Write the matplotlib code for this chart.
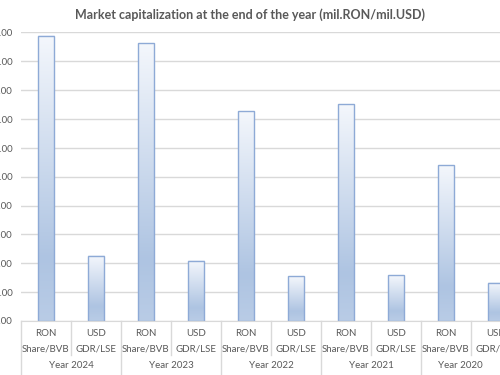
import matplotlib.pyplot as plt
import matplotlib.transforms as mtrans
import numpy as np
from matplotlib.colors import LinearSegmentedColormap
from matplotlib.lines import Line2D
from matplotlib.ticker import FuncFormatter

plt.rcParams['font.family'] = ['Lato', 'DejaVu Sans']

# data (y-axis values are cut off in the source; read in gridline units x1000)
years = ["Year 2024", "Year 2023", "Year 2022", "Year 2021", "Year 2020"]
currencies = ["RON", "USD"]
markets = ["Share/BVB", "GDR/LSE"]
ron_values = [9880, 9620, 7270, 7510, 5390]
usd_values = [2260, 2080, 1550, 1590, 1330]

values = []
for r, u in zip(ron_values, usd_values):
    values += [r, u]

grey = '#595959'
grid_c = '#d9d9d9'
cmap = LinearSegmentedColormap.from_list(
    'bar', [(0, '#f4f7fc'), (0.78, '#aec4e2'), (1, '#b9cce6')])

fig = plt.figure(figsize=(5, 3.75), dpi=100)
ax = fig.add_axes([21 / 500, 54 / 375, 479 / 500, 288.7 / 375])

bar_w = 0.33
grad = np.linspace(0, 1, 256).reshape(-1, 1)
for i, v in enumerate(values):
    ax.imshow(grad, cmap=cmap, aspect='auto', origin='upper',
              extent=(i - bar_w / 2, i + bar_w / 2, 0, v), zorder=2)
    ax.bar(i, v, width=bar_w, facecolor='none', edgecolor='#8eaad6',
           linewidth=1.0, zorder=3)

xmax = -0.5 + 479 / 50
ax.set_xlim(-0.5, xmax)
ax.set_ylim(0, 10000)
ax.set_yticks(np.arange(0, 10001, 1000))
ax.yaxis.set_major_formatter(FuncFormatter(lambda v, p: f"{v:,.2f}"))
ax.tick_params(axis='y', length=0, pad=6, labelsize=7, labelcolor=grey)
ax.set_xticks([])
ax.grid(axis='y', color=grid_c, linewidth=1, zorder=0)
for s in ['top', 'right', 'left']:
    ax.spines[s].set_visible(False)
ax.spines['bottom'].set_color(grid_c)
ax.spines['bottom'].set_zorder(4)


# multi-level category labels
def fig_y(px):
    return 1 - px / 375


btrans = mtrans.blended_transform_factory(ax.transData, fig.transFigure)
for i in range(len(values)):
    ax.text(i, fig_y(333), currencies[i % 2], transform=btrans, ha='center',
            va='center', fontsize=7, color=grey, clip_on=False)
    ax.text(i, fig_y(349), markets[i % 2], transform=btrans, ha='center',
            va='center', fontsize=7, color=grey, clip_on=False)
    if i % 2 == 1:
        fig.add_artist(Line2D([i - 0.5, i - 0.5], [fig_y(321), fig_y(355)],
                              transform=btrans, color=grid_c, linewidth=1))
for j, y in enumerate(years):
    lo, hi = 2 * j - 0.5, min(2 * j + 1.5, xmax)
    ax.text((lo + hi) / 2, fig_y(365), y, transform=btrans, ha='center',
            va='center', fontsize=7, color=grey, clip_on=False)
    fig.add_artist(Line2D([lo, lo], [fig_y(321), fig_y(375)],
                          transform=btrans, color=grid_c, linewidth=1))

fig.text(0.5, fig_y(14.5), "Market capitalization at the end of the year (mil.RON/mil.USD)",
         ha='center', va='center', fontsize=9, fontweight='bold', color=grey)

fig.savefig('out.png', dpi=100)
